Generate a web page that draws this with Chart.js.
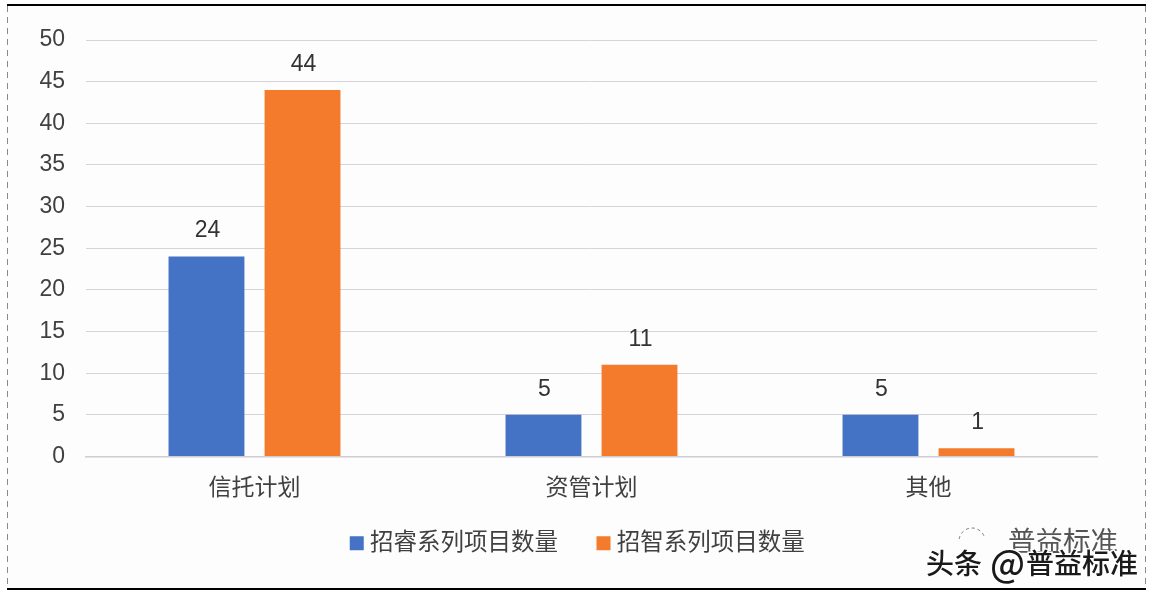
<!DOCTYPE html>
<html><head><meta charset="utf-8">
<style>html,body{margin:0;padding:0;background:#fff}canvas{display:block}</style>
<script src="https://cdn.jsdelivr.net/npm/chart.js@4"></script></head>
<body><canvas id="c" width="1154" height="596"></canvas>
<script>
const categories = ["信托计划","资管计划","其他"];
const seriesNames = ["招睿系列项目数量","招智系列项目数量"];
const ruiValues = [24,5,5];
const zhiValues = [44,11,1];
const FONT = '"Liberation Sans","Noto Sans CJK SC",sans-serif';
const TEXT = '#404040';

const framePlugin = {
  id:'frame',
  afterLayout(ch){
    const l = ch.legend;
    l.top -= 19; l.bottom -= 19; l.left += 3; l.right += 3;
  },
  beforeDraw(ch){
    const c = ch.ctx; c.save();
    c.fillStyle='#fff'; c.fillRect(0,0,1154,596);
    c.fillStyle='#fdfdfe'; c.fillRect(7,5,1138,584);
    c.strokeStyle='#8a8a8a'; c.lineWidth=1; c.setLineDash([6,5]);
    c.beginPath(); c.moveTo(7.5,6); c.lineTo(7.5,588); c.moveTo(1145.5,6); c.lineTo(1145.5,588); c.stroke();
    c.setLineDash([]); c.strokeStyle='#000'; c.lineWidth=2;
    c.beginPath(); c.moveTo(7,5); c.lineTo(1146,5); c.moveTo(7,589); c.lineTo(1146,589); c.stroke();
    c.restore();
  },
  afterDraw(ch){
    const c = ch.ctx; c.save();
    c.font='23px '+FONT; c.fillStyle='#333'; c.textAlign='center'; c.textBaseline='middle';
    ch.data.datasets.forEach((d,i)=>{
      ch.getDatasetMeta(i).data.forEach((el,j)=>{ c.fillText(String(d.data[j]), el.x+1, el.y-25.5); });
    });
    c.textAlign='left';
    c.strokeStyle='#777'; c.lineWidth=1; c.setLineDash([3,3]);
    c.beginPath(); c.arc(972,541,13,Math.PI*1.05,Math.PI*1.9); c.stroke(); c.setLineDash([]);
    c.font='27.5px "Noto Sans CJK SC"'; c.fillStyle='#555';
    c.fillText('普益标准',1008,541);
    const parts = [['头条',926,28],['@',990,36],['普益标准',1026,28]];
    c.lineWidth=3; c.strokeStyle='#fff';
    parts.forEach(p=>{ c.font='500 '+p[2]+'px "Noto Sans CJK SC"'; c.strokeText(p[0],p[1],563); });
    c.fillStyle='#1a1a1a';
    parts.forEach(p=>{ c.font='500 '+p[2]+'px "Noto Sans CJK SC"'; c.fillText(p[0],p[1],563); });
    c.restore();
  }
};

new Chart(document.getElementById('c'),{
  type:'bar',
  data:{labels:categories,datasets:[
    {label:seriesNames[0],data:ruiValues,backgroundColor:'#4472C4',pointStyle:'rect',yAxisID:'y'},
    {label:seriesNames[1],data:zhiValues,backgroundColor:'#F47B2C',pointStyle:'rect',yAxisID:'y'}
  ]},
  plugins:[framePlugin],
  options:{
    responsive:false,animation:false,devicePixelRatio:1,
    layout:{padding:{left:0,right:0,top:40,bottom:12}},
    datasets:{bar:{categoryPercentage:0.57,barPercentage:0.79}},
    plugins:{
      tooltip:{enabled:false},
      legend:{position:'bottom',labels:{usePointStyle:true,boxWidth:3,boxHeight:14,padding:44,color:TEXT,font:{family:FONT,size:23.5}}}
    },
    scales:{
      x:{grid:{display:false,drawTicks:false},border:{color:'#d0ced4',width:1.5},
        ticks:{color:TEXT,font:{family:FONT,size:23},padding:18},
        afterFit(s){s.height=50;}},
      y:{min:0,max:50,grid:{color:'#d6d3da',lineWidth:1,drawTicks:false},border:{display:false},
        ticks:{stepSize:5,color:TEXT,font:{family:FONT,size:23},padding:21},
        afterFit(s){s.width=86;}},
      yRight:{position:'right',grid:{display:false,drawTicks:false},border:{display:false},
        ticks:{display:false},afterFit(s){s.width=57;}}
    }
  }
});
</script></body></html>
